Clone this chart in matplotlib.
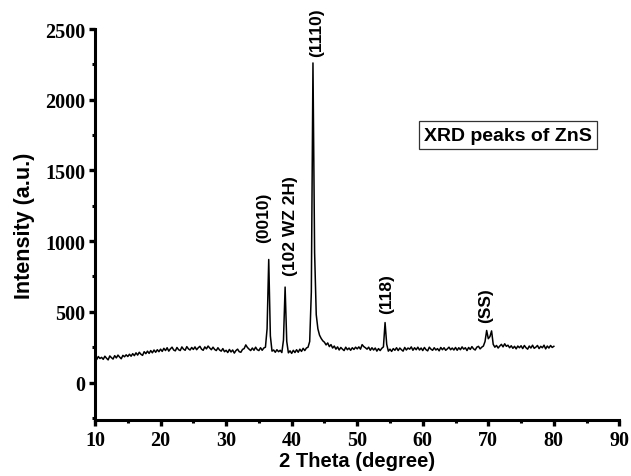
import numpy as np
import matplotlib
matplotlib.use("Agg")
import matplotlib.pyplot as plt
from matplotlib.ticker import MultipleLocator

# XRD scan of ZnS, 2-theta 10..80 deg in 0.25 deg steps
two_theta = np.arange(10.0, 80.0 + 0.001, 0.25)
intensity = [
    # 10 - 15
    174, 162, 184, 170, 178, 164, 186, 172, 160, 188, 176, 166, 190, 174, 194, 180, 168, 192, 182, 196,
    # 15 - 20
    184, 200, 186, 204, 190, 210, 194, 214, 200, 192, 218, 204, 222, 206, 226, 210, 230, 214, 232, 218,
    # 20 - 25
    236, 220, 242, 226, 246, 222, 238, 250, 230, 224, 248, 232, 226, 252, 236, 228, 254, 238, 230, 248,
    # 25 - 30
    234, 252, 232, 246, 256, 236, 228, 252, 238, 258, 244, 232, 250, 234, 226, 246, 230, 222, 240, 218,
    # 30 - 35
    228, 212, 234, 216, 230, 208, 226, 236, 218, 214, 234, 240, 266, 248, 236, 226, 244, 228, 250, 232,
    # 35 - 40  (0010) and (102 WZ 2H)
    226, 246, 228, 244, 250, 380, 870, 330, 222, 230, 214, 232, 218, 228, 212, 300, 675, 290, 210, 224,
    # 40 - 45  (1110)
    206, 228, 212, 232, 214, 236, 220, 242, 226, 244, 250, 290, 640, 2260, 920, 480, 380, 335, 312, 295,
    # 45 - 50
    285, 266, 280, 254, 268, 244, 258, 236, 252, 230, 248, 236, 226, 250, 232, 244, 228, 246, 234, 250,
    # 50 - 55  (118)
    238, 252, 236, 268, 254, 246, 236, 250, 228, 246, 230, 244, 222, 240, 226, 242, 252, 424, 270, 222,
    # 55 - 60
    236, 220, 240, 228, 246, 226, 244, 232, 222, 248, 230, 244, 236, 252, 228, 246, 232, 250, 230, 244,
    # 60 - 65
    226, 248, 232, 224, 250, 236, 228, 246, 230, 240, 224, 248, 232, 246, 228, 238, 250, 232, 244, 230,
    # 65 - 70  (SS)
    248, 228, 246, 232, 252, 236, 246, 226, 248, 234, 254, 238, 230, 250, 256, 238, 250, 258, 290, 368,
    # 70 - 75
    310, 325, 365, 270, 250, 262, 244, 258, 270, 252, 274, 256, 264, 246, 260, 242, 256, 238, 258, 246,
    # 75 - 80
    260, 240, 262, 246, 236, 258, 244, 264, 242, 250, 262, 240, 256, 246, 264, 238, 258, 244, 262, 248,
    256,
]

peak_labels = ["(0010)", "(102 WZ 2H)", "(1110)", "(118)", "(SS)"]
label_x = [35.76, 39.85, 43.8, 54.55, 69.55]
label_y = [1174, 1117, 2482, 636, 551]

fig = plt.figure(figsize=(6.31, 4.77), dpi=100)
ax = fig.add_axes([0.1506, 0.1174, 0.831, 0.8197])

ax.plot(two_theta, intensity, color="black", linewidth=1.1)

ax.set_xlim(10, 90)
ax.set_ylim(-265, 2500)
ax.xaxis.set_major_locator(MultipleLocator(10))
ax.xaxis.set_minor_locator(MultipleLocator(5))
ax.yaxis.set_major_locator(MultipleLocator(500))
ax.yaxis.set_minor_locator(MultipleLocator(250))

for side in ("top", "right"):
    ax.spines[side].set_visible(False)
for side in ("left", "bottom"):
    ax.spines[side].set_linewidth(2.2)

ax.tick_params(which="major", direction="out", length=4.5, width=2.4, pad=2.5)
ax.tick_params(which="minor", direction="out", length=2, width=2.2)

for lab in ax.get_xticklabels() + ax.get_yticklabels():
    lab.set_fontfamily("Liberation Serif")
    lab.set_fontweight("bold")
    lab.set_fontsize(14.5)

ax.set_xlabel("2 Theta (degree)", family="Liberation Sans", weight="bold",
              fontsize=14.5, labelpad=1)
ax.set_ylabel("Intensity (a.u.)", family="Liberation Sans", weight="bold",
              fontsize=15.5, labelpad=7)

for txt, x, y in zip(peak_labels, label_x, label_y):
    ax.text(x, y, txt, rotation=90, ha="center", va="center",
            family="Liberation Sans", weight="bold", fontsize=12.5, clip_on=False)

ax.text(73.0, 1750, "XRD peaks of ZnS", ha="center", va="center",
        family="Liberation Sans", weight="bold", fontsize=14,
        bbox=dict(boxstyle="square,pad=0.28", facecolor="white",
                  edgecolor="#333333", linewidth=0.9))

fig.savefig("out.png", dpi=100)
